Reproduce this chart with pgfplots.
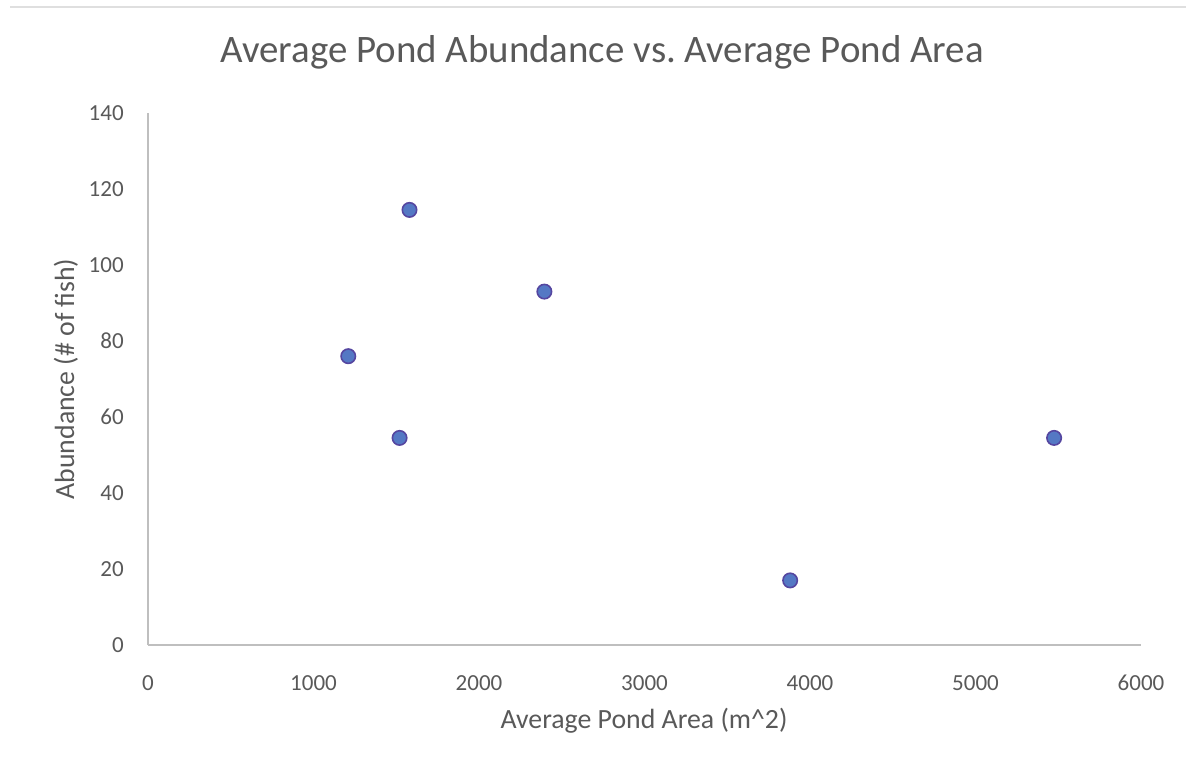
\documentclass[border=0pt]{standalone}
\usepackage{pgfplots}
\pgfplotsset{compat=1.18}
\usepackage{fontspec}
\setmainfont{Carlito}
\definecolor{txt}{RGB}{89,89,89}
\definecolor{axl}{RGB}{191,191,191}
\definecolor{mfill}{RGB}{84,120,196}
\definecolor{mdraw}{RGB}{85,70,160}
\begin{document}
\begin{tikzpicture}
\useasboundingbox (0pt,0pt) rectangle (593pt,380.5pt);
\draw[gray!25, line width=1.2pt] (5pt,377pt) -- (593pt,377pt);
\begin{axis}[
  at={(74pt,58pt)}, anchor=south west,
  scale only axis, width=496.5pt, height=266pt,
  xmin=0, xmax=6000, ymin=0, ymax=140,
  xtick={0,1000,...,6000}, ytick={0,20,...,140},
  axis x line=bottom, axis y line=left,
  axis line style={axl, line width=0.9pt, -},
  tick style={draw=none},
  every tick label/.style={font=\fontsize{11.5}{13}\selectfont, text=txt},
  /pgf/number format/assume math mode=true,
  /pgf/number format/1000 sep={},
  xticklabel style={yshift=-9.5pt},
  yticklabel style={xshift=-6.5pt},
  clip=false,
]
\addplot[only marks, mark=*, mark size=3.6pt, mark options={fill=mfill, draw=mdraw, line width=0.8pt}]
  coordinates {(1210,76) (1580,114.5) (2395,93) (1520,54.5) (3880,17) (5475,54.5)};
\end{axis}
\node[text=txt, font=\fontsize{19.45}{22}\selectfont] at (301pt,354.5pt) {Average Pond Abundance vs.\ Average Pond Area};
\node[text=txt, font=\fontsize{13.9}{16}\selectfont] at (322pt,20pt) {Average Pond Area (m\textasciicircum 2)};
\node[text=txt, font=\fontsize{13.9}{16}\selectfont, rotate=90] at (33pt,191pt) {Abundance (\# of fish)};
\end{tikzpicture}
\end{document}
